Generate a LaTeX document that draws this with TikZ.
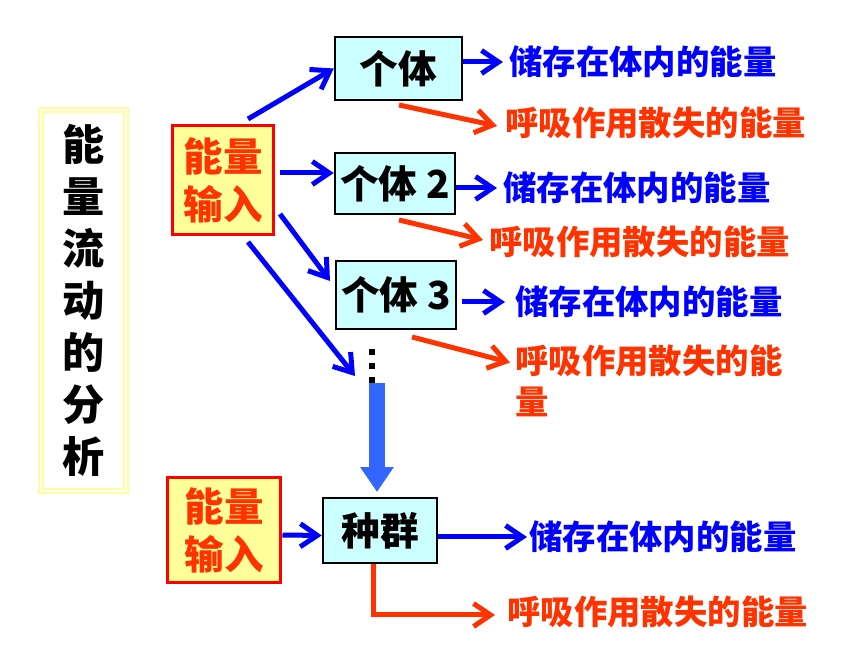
\documentclass[tikz,border=0pt]{standalone}
\usepackage{fontspec}
\usepackage{tikz}
\usetikzlibrary{arrows.meta}
\newfontfamily\cjk{Noto Sans CJK SC}

\definecolor{flowblue}{HTML}{0000FF}
\definecolor{lossred}{HTML}{FF3300}
\definecolor{unitcyan}{HTML}{CCFFFF}
\definecolor{inyellow}{HTML}{FFFF99}
\definecolor{bigblue}{HTML}{3366FF}
\definecolor{paleyellow}{HTML}{FFFF99}

\tikzset{
  titlebox/.style={draw=paleyellow, double=white, double distance=0.25mm, line width=0.45mm,
    align=center, font=\cjk\bfseries\fontsize{24}{29.6}\selectfont,
    minimum width=1.7cm, minimum height=7.62cm},
  inbox/.style={draw=red, fill=inyellow, line width=0.6mm, text=lossred, align=center,
    inner sep=0pt, font=\cjk\bfseries\fontsize{22.5}{27.3}\selectfont},
  unit/.style={draw=black, fill=unitcyan, line width=0.5mm, inner sep=0pt,
    font=\cjk\bfseries\fontsize{22}{26}\selectfont},
  store/.style={anchor=west, inner sep=0pt, text=flowblue,
    font=\cjk\bfseries\fontsize{19}{23.4}\selectfont},
  loss/.style={anchor=west, inner sep=0pt, text=lossred, align=left,
    font=\cjk\bfseries\fontsize{19}{23.4}\selectfont},
  flow/.style={draw=flowblue, line width=1mm, -{Straight Barb[length=3.4mm,width=4.6mm]}},
  lossflow/.style={draw=lossred, line width=1mm, -{Straight Barb[length=3.4mm,width=4.6mm]}},
  bigflow/.style={draw=bigblue, line width=3.4mm, -{Triangle[length=5mm,width=6.4mm]}}
}

\begin{document}
\begin{tikzpicture}[x=0.02cm, y=-0.02cm]
  \useasboundingbox (0,0) rectangle (860,645);

  \node[titlebox] (title) at (83.5,300.5) {能\\量\\流\\动\\的\\分\\析};

  \node[inbox, minimum width=2.04cm, minimum height=2.2cm] (in1) at (223,180) {能量\\输入};
  \node[inbox, minimum width=2.28cm, minimum height=2.12cm] (in2) at (224,530) {能量\\输入};

  \node[unit, minimum width=2.54cm, minimum height=1.26cm] (ind1) at (398.5,68.5) {个体};
  \node[unit, minimum width=2.4cm, minimum height=1.22cm] (ind2) at (395,183.5) {个体 2};
  \node[unit, minimum width=2.4cm, minimum height=1.36cm] (ind3) at (396,295) {个体 3};
  \node[unit, minimum width=2.28cm, minimum height=1.3cm] (pop) at (380,530.5) {种群};

  \foreach \name/\x/\y in {s1/509/62, s2/503/188, s3/515/302, s4/529/537}
    \node[store] (\name) at (\x,\y) {储存在体内的能量};
  \foreach \name/\x/\y in {r1/505/123, r2/489/242, r4/507/612}
    \node[loss] (\name) at (\x,\y) {呼吸作用散失的能量};
  \node[loss] (r3) at (515,380.5) {呼吸作用散失的能\\量};

  % energy input to the individuals
  \coordinate (a1) at (248,119);
  \coordinate (a2) at (280,173);
  \coordinate (a3) at (280,214);
  \coordinate (a4) at (248,242);
  \coordinate (t3) at (330,281);
  \coordinate (t4) at (355,376);
  \draw[flow] (a1) -- (ind1.west);
  \draw[flow] (a2) -- (a2 -| ind2.west);
  \draw[flow] (a3) -- (t3);
  \draw[flow] (a4) -- (t4);

  \draw[flow] (ind1.east |- s1) -- ([xshift=-1.2mm]s1.west);
  \draw[flow] (ind2.east |- s2) -- ([xshift=-1.2mm]s2.west);
  \draw[flow] ([xshift=1mm]ind3.east |- s3) -- ([xshift=-2mm]s3.west);
  \draw[flow] (pop.east |- s4) -- ([xshift=-0.4mm]s4.west);

  \coordinate (b1) at (399,105);
  \coordinate (b2) at (399,220);
  \coordinate (b3) at (412,337);
  \draw[lossflow] (b1) -- ([shift={(-8,3)}]r1.west);
  \draw[lossflow] (b2) -- ([shift={(-6,-2)}]r2.west);
  \draw[lossflow] (b3) -- ([shift={(-5,-18)}]r3.west);
  \draw[lossflow] ([xshift=-1.4mm]pop.south) |- ([shift={(-12,3)}]r4.west);

  % the rest of the individuals, summed up as the population
  \coordinate (dots) at (372,349);
  \draw[line width=1.2mm, dash pattern=on 1.2mm off 1.6mm] (dots) -- ++(0,34);
  \coordinate (bigtop) at (377,383);
  \draw[bigflow] (bigtop) -- (377,492);

  \draw[flow] ([yshift=-1mm]in2.east) -- ([yshift=-1mm]pop.west);
\end{tikzpicture}
\end{document}
